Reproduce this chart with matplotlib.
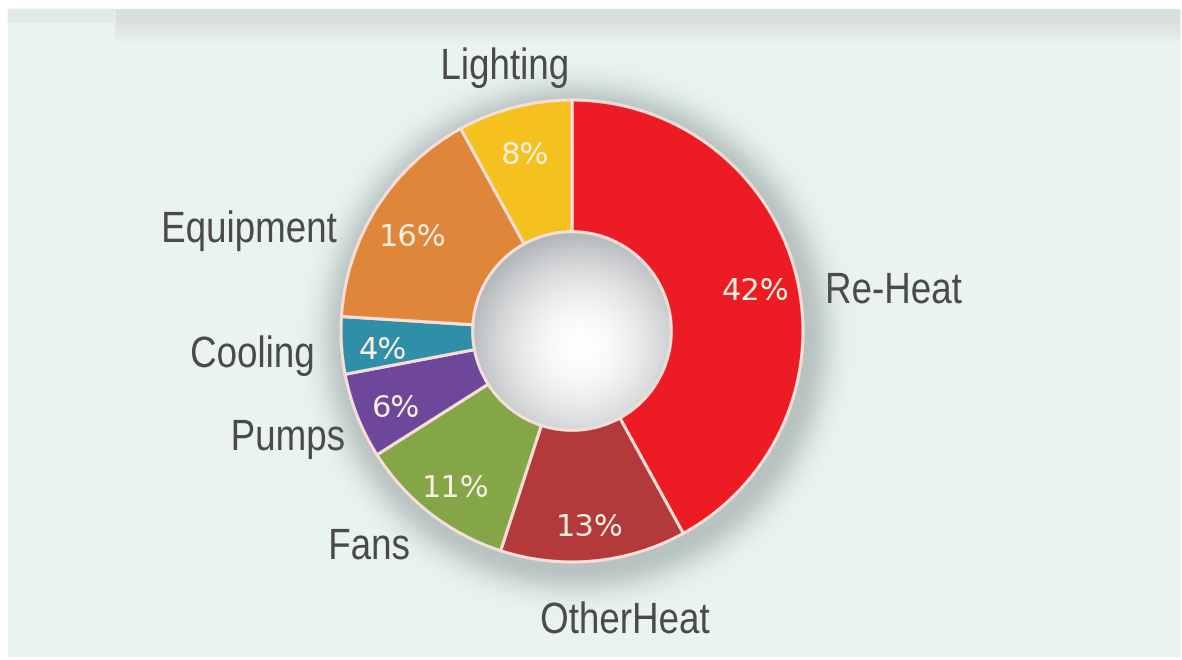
import numpy as np
import matplotlib
matplotlib.use("Agg")
import matplotlib.pyplot as plt
import matplotlib.patheffects as pe
from matplotlib.patches import Circle, Rectangle
from matplotlib.transforms import Affine2D

# Energy use breakdown
categories = ["Re-Heat", "OtherHeat", "Fans", "Pumps", "Cooling", "Equipment", "Lighting"]
shares = [42, 13, 11, 6, 4, 16, 8]
colors = ["#ed1c24", "#b3393a", "#84a646", "#6c479a", "#2f8fa8", "#e0863a", "#f5c11f"]

# Outer label anchors in pixel space: (x, baseline y, alignment)
label_layout = {
    "Re-Heat": (825, 303, "left"),
    "OtherHeat": (625, 633, "center"),
    "Fans": (410, 559, "right"),
    "Pumps": (345, 450, "right"),
    "Cooling": (315, 367, "right"),
    "Equipment": (337, 242, "right"),
    "Lighting": (505, 79, "center"),
}

W, H = 1182, 660
CX, CY, R = 572, 331, 231      # donut centre and outer radius (px)
HOLE = 0.43                    # inner radius as fraction of outer
BG = "#e9f3f1"


class Condensed(pe.AbstractPathEffect):
    """Squeeze glyphs horizontally about a fixed x (display px)."""

    def __init__(self, x0, factor=0.84):
        super().__init__()
        self.x0 = x0
        self.factor = factor

    def draw_path(self, renderer, gc, tpath, affine, rgbFace=None):
        squeeze = Affine2D().translate(-self.x0, 0).scale(self.factor, 1).translate(self.x0, 0)
        renderer.draw_path(gc, tpath, affine + squeeze, rgbFace)


fig = plt.figure(figsize=(W / 100, H / 100), dpi=100)
fig.patch.set_facecolor("white")

# --- background panel in pixel coordinates ---
ax_bg = fig.add_axes([0, 0, 1, 1])
ax_bg.set_xlim(0, W)
ax_bg.set_ylim(H, 0)
ax_bg.axis("off")
ax_bg.add_patch(Rectangle((8, 9), W - 10, H - 13, color=BG, zorder=0))

# soft grey strip along the top edge
band = np.linspace(0, 1, 60)[:, None]
top = np.array([0.85, 0.875, 0.865])
base = np.array(matplotlib.colors.to_rgb(BG))
strip = np.clip((band - 0.3) / 0.7, 0, 1)
rgb = top * (1 - strip)[..., None] + base * strip[..., None]
rgb = np.repeat(rgb, 2, axis=1)
ax_bg.imshow(rgb, extent=(115, W - 2, 45, 9), aspect="auto", zorder=1)
ax_bg.add_patch(Rectangle((8, 9), 107, 12, color="#e2eae8", zorder=1))

# --- donut axes: 1 data unit == R pixels ---
ax = fig.add_axes([0, 0, 1, 1])
ax.patch.set_alpha(0)
xlim = (-CX / R, (W - CX) / R)
ylim = (-(H - CY) / R, CY / R)

# drop shadow around the ring
gx = np.linspace(*xlim, 600)
gy = np.linspace(*ylim, 340)
XX, YY = np.meshgrid(gx, gy)
rr = np.hypot(XX - 0.02, YY + 0.03)
alpha = np.where(rr < 1, 0.4, 0.4 * np.exp(-((rr - 1) / 0.11) ** 2))
shadow = np.zeros(rr.shape + (4,))
shadow[..., :3] = matplotlib.colors.to_rgb("#6f7b7a")
shadow[..., 3] = alpha
ax.imshow(shadow, extent=(*xlim, *ylim), origin="lower", zorder=1,
          interpolation="bilinear")

wedges, _, pct_texts = ax.pie(
    shares,
    colors=colors,
    startangle=90,
    counterclock=False,
    autopct=lambda p: f"{p:.0f}%",
    pctdistance=0.82,
    wedgeprops=dict(width=1 - HOLE, edgecolor="#f7dfd9", linewidth=2.2),
    textprops=dict(color="#f9efe0", fontsize=22, family="DejaVu Sans"),
)
for w in wedges:
    w.set_zorder(3)
for t in pct_texts:
    x, y = t.get_position()
    t.set_position((x, y - 0.035))
    t.set_zorder(5)

# shaded centre hole
hole_r = np.hypot(XX - 0.04, YY + 0.07) / HOLE
shade = np.clip(hole_r, 0, 1.15) ** 1.8
hole_rgb = np.ones(rr.shape + (3,))
edge_col = np.array([0.77, 0.78, 0.79])
hole_rgb = hole_rgb * (1 - shade[..., None]) + edge_col * shade[..., None]
hole_img = ax.imshow(np.clip(hole_rgb, 0, 1), extent=(*xlim, *ylim), origin="lower",
                     zorder=2, interpolation="bilinear")
hole_img.set_clip_path(Circle((0, 0), HOLE, transform=ax.transData))

ax.set_xlim(*xlim)
ax.set_ylim(*ylim)
ax.set_aspect("equal", adjustable="box")
ax.axis("off")

# category names around the ring
for name in categories:
    px, py, ha = label_layout[name]
    ax_bg.text(px, py, name, ha=ha, va="baseline", fontsize=31.5,
               color="#4a4a4a", family="Liberation Sans", zorder=6,
               path_effects=[Condensed(px)])

fig.savefig("out.png", dpi=100, facecolor=fig.get_facecolor())
